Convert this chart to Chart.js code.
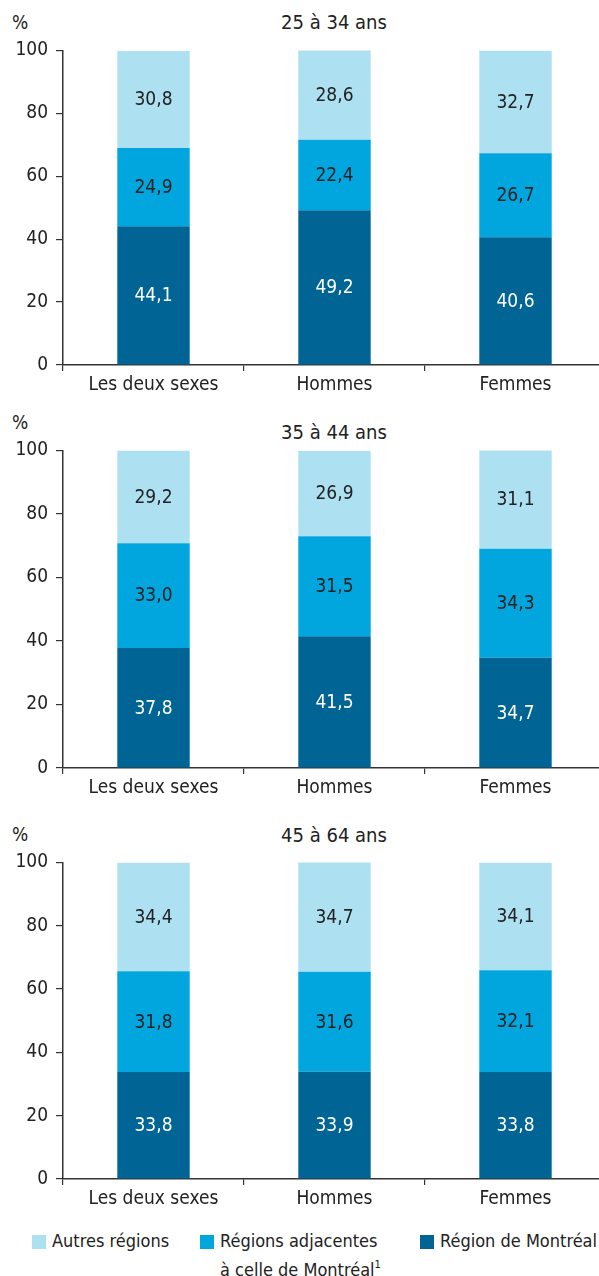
<!DOCTYPE html>
<html lang="fr">
<head>
<meta charset="utf-8">
<script src="https://cdn.jsdelivr.net/npm/chart.js@4.4.1/dist/chart.umd.min.js"></script>
<style>
  body { margin: 0; width: 599px; height: 1276px; overflow: hidden; background: #fff; position: relative;
         font-family: "Liberation Sans Narrow", "DejaVu Sans Condensed", sans-serif; color: #222; }
  .box { position: absolute; left: 0; width: 606px; }
  .txt { position: absolute; font-size: 19px; line-height: 24px; white-space: nowrap; }
  .title { transform: translateX(-50%); font-size: 20px; }
  .leg { font-size: 18px; }
  .sw { position: absolute; width: 14px; height: 14px; }
</style>
</head>
<body>

<div class="txt" style="left:12px; top:10px">%</div>
<div class="txt title" style="left:334px; top:10px">25 à 34 ans</div>
<div class="box" style="top:31px; height:368px"><canvas id="c1"></canvas></div>

<div class="txt" style="left:12px; top:410px">%</div>
<div class="txt title" style="left:334px; top:420px">35 à 44 ans</div>
<div class="box" style="top:431px; height:371px"><canvas id="c2"></canvas></div>

<div class="txt" style="left:12px; top:822px">%</div>
<div class="txt title" style="left:334px; top:823px">45 à 64 ans</div>
<div class="box" style="top:843px; height:370px"><canvas id="c3"></canvas></div>

<div id="legend"></div>

<script>
// categories and series
var categories = ['Les deux sexes', 'Hommes', 'Femmes'];
var seriesNames = ['Région de Montréal', 'Régions adjacentes', 'Autres régions'];
var colors = ['#006595', '#00a6dd', '#ade1f2'];
var labelColors = ['#ffffff', '#222222', '#222222'];

// values per age group (Montréal, adjacentes, autres)
var montreal25 = [44.1, 49.2, 40.6];
var adjacent25 = [24.9, 22.4, 26.7];
var autres25   = [30.8, 28.6, 32.7];

var montreal35 = [37.8, 41.5, 34.7];
var adjacent35 = [33.0, 31.5, 34.3];
var autres35   = [29.2, 26.9, 31.1];

var montreal45 = [33.8, 33.9, 33.8];
var adjacent45 = [31.8, 31.6, 32.1];
var autres45   = [34.4, 34.7, 34.1];

var yTicks = [0, 20, 40, 60, 80, 100];

var fontFamily = '"Liberation Sans Narrow", "DejaVu Sans Condensed", sans-serif';

// draws the value inside each bar segment
var valueLabels = {
    id: 'valueLabels',
    afterDatasetsDraw: function(chart) {
        var ctx = chart.ctx;
        ctx.save();
        ctx.font = '19px ' + fontFamily;
        ctx.textAlign = 'center';
        ctx.textBaseline = 'middle';
        chart.data.datasets.forEach(function(ds, i) {
            var meta = chart.getDatasetMeta(i);
            ctx.fillStyle = labelColors[i];
            meta.data.forEach(function(bar, j) {
                var mid = (bar.y + bar.base) / 2 + 1;
                ctx.fillText(ds.data[j].toFixed(1).replace('.', ','), bar.x, mid);
            });
        });
        ctx.restore();
    }
};

function makeChart(id, series) {
    var ctx = document.getElementById(id).getContext('2d');
    return new Chart(ctx, {
        type: 'bar',
        data: {
            labels: categories,
            datasets: series.map(function(values, i) {
                return {
                    label: seriesNames[i],
                    data: values,
                    backgroundColor: colors[i],
                    borderWidth: 0,
                    categoryPercentage: 1,
                    barPercentage: 0.4
                };
            })
        },
        options: {
            responsive: true,
            maintainAspectRatio: false,
            animation: false,
            events: [],
            layout: { padding: { top: 14, right: 0, left: 0, bottom: 0 } },
            plugins: { legend: { display: false }, tooltip: { enabled: false } },
            scales: {
                x: {
                    stacked: true,
                    grid: { offset: true, drawOnChartArea: false, drawTicks: true, tickLength: 6, color: '#333', lineWidth: 1.2 },
                    border: { color: '#333', width: 1.5 },
                    ticks: { color: '#222', font: { family: fontFamily, size: 19 }, padding: 3, maxRotation: 0 },
                    afterFit: function(scale) { scale.height = 34; }
                },
                y: {
                    stacked: true,
                    min: 0,
                    max: 100,
                    afterBuildTicks: function(scale) {
                        scale.ticks = yTicks.map(function(v) { return { value: v }; });
                    },
                    grid: { drawOnChartArea: false, drawTicks: true, tickLength: 7, color: '#333', lineWidth: 1.2 },
                    border: { color: '#333', width: 1.5 },
                    ticks: { color: '#222', font: { family: fontFamily, size: 19 }, padding: 8 },
                    afterFit: function(scale) { scale.width = 63; }
                }
            }
        },
        plugins: [valueLabels]
    });
}

makeChart('c1', [montreal25, adjacent25, autres25]);
makeChart('c2', [montreal35, adjacent35, autres35]);
makeChart('c3', [montreal45, adjacent45, autres45]);

// legend (light to dark, as in the reference)
var legendItems = [
    { color: colors[2], text: 'Autres régions', left: 32 },
    { color: colors[1], text: 'Régions adjacentes<br>à celle de Montréal<sup style="font-size:11px; vertical-align:8px">1</sup>', left: 200 },
    { color: colors[0], text: 'Région de Montréal', left: 420 }
];
var legend = document.getElementById('legend');
legendItems.forEach(function(item) {
    var sw = document.createElement('div');
    sw.className = 'sw';
    sw.style.left = item.left + 'px';
    sw.style.top = '1235px';
    sw.style.background = item.color;
    legend.appendChild(sw);
    var t = document.createElement('div');
    t.className = 'txt leg';
    t.style.left = (item.left + 20) + 'px';
    t.style.top = '1229px';
    t.innerHTML = item.text;
    legend.appendChild(t);
});
</script>
</body>
</html>
